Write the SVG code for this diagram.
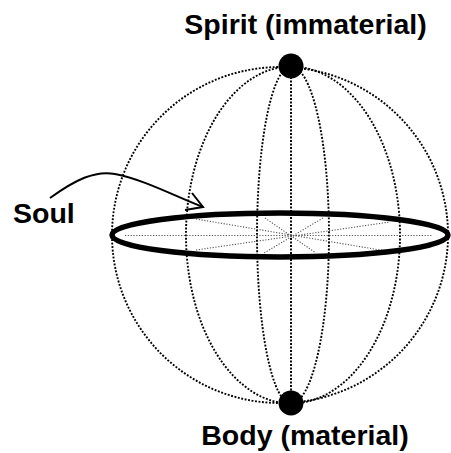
<svg xmlns="http://www.w3.org/2000/svg" width="451" height="453" viewBox="0 0 451 453">
<style>
.mer{fill:none;stroke:#000;stroke-width:1.9;stroke-dasharray:1.9 1.6}
.spoke{fill:none;stroke:#555;stroke-width:1.1;stroke-dasharray:1.2 1.6}
.ring{fill:none;stroke:#000;stroke-width:5.5}
.dot{fill:#000}
.lbl{font-family:"Liberation Sans",Arial,sans-serif;font-weight:bold;font-size:28.5px;fill:#000}
.arr{fill:none;stroke:#000;stroke-width:2}
</style>
<rect width="451" height="453" fill="#fff"/>
<g id="sphere">
  <circle class="mer" cx="280" cy="235" r="168"/>
  <path class="mer" d="M291,66.5 A105,168.5 0 0 0 291,403.5"/>
  <path class="mer" d="M291,66.5 A109,168.5 0 0 1 291,403.5"/>
  <path class="mer" d="M291,66.5 A34,168.5 0 0 0 291,403.5"/>
  <path class="mer" d="M291,66.5 A38,168.5 0 0 1 291,403.5"/>
  <path class="mer" d="M291,66.5 V403.5"/>
</g>
<g id="soul-ring">
  <path class="spoke" d="M125,235.5 H433"/>
  <path class="spoke" d="M196,219 L386,251"/>
  <path class="spoke" d="M196,250 L390,222"/>
  <path class="spoke" d="M265,218 L316,253"/>
  <path class="spoke" d="M323,218 L264,253"/>
  <ellipse class="ring" cx="280" cy="235" rx="168" ry="22"/>
</g>
<g id="spirit">
  <circle class="dot" cx="291" cy="66" r="12.5"/>
  <text class="lbl" x="305.5" y="34" text-anchor="middle">Spirit (immaterial)</text>
</g>
<g id="body">
  <circle class="dot" cx="291" cy="403" r="12.5"/>
  <text class="lbl" x="305" y="445" text-anchor="middle">Body (material)</text>
</g>
<g id="soul">
  <text class="lbl" x="13" y="223">Soul</text>
</g>
<g id="connectors">
  <path class="arr" d="M50,198 C75,180 95,170 115,174 C145,180 172,195 203,207"/>
  <polyline class="arr" points="192,193 203,207 185,210"/>
</g>
</svg>
